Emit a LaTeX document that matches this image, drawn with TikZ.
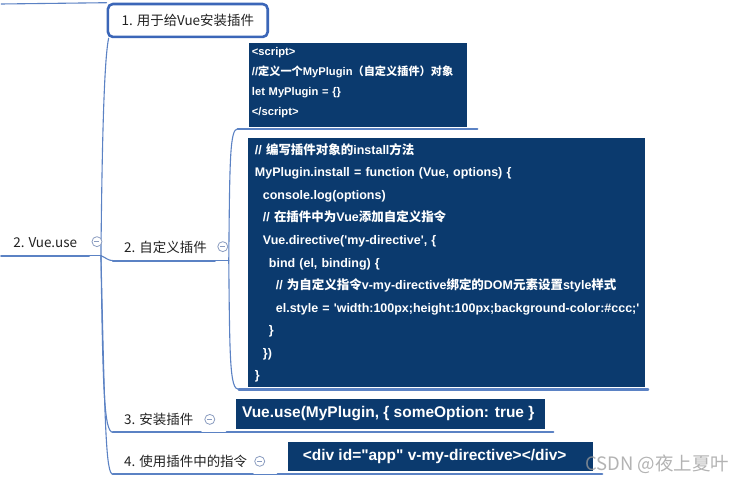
\documentclass[tikz,border=0pt]{standalone}
\usepackage{fontspec}
\setmainfont{Liberation Sans}
\newfontfamily\cjk{Noto Sans CJK SC}
\usetikzlibrary{calc}
\definecolor{vueNavy}{HTML}{0B3A6E}
\definecolor{vueLine}{HTML}{5B82C4}
\definecolor{vueEdge}{HTML}{3B66B8}
\definecolor{vueInk}{HTML}{222222}
\definecolor{vueFold}{HTML}{8A9CC0}
\definecolor{vueMark}{HTML}{9A9A9A}
\newcommand{\zh}[1]{{\cjk #1}}

\begin{document}
\begin{tikzpicture}[x=1pt,y=-1pt,line cap=round,line join=round]
\path[fill=white] (0,0) rectangle (749,485);
\tikzset{uline/.style={draw=vueLine,line width=2.2pt},branch/.style={draw=vueLine,line width=1.1pt},topic/.style={anchor=west,inner sep=0pt,text=vueInk,font=\cjk\fontsize{13.5}{16}\selectfont},fold/.style={circle,draw=vueFold,line width=0.8pt,fill=white,minimum size=10pt,inner sep=0pt,text=vueFold},codebox/.style={anchor=north west,fill=vueNavy,inner sep=0pt},code/.style={anchor=base west,inner sep=0pt,text=white,align=left,text width=440pt},notebox/.style={draw=vueEdge,line width=2.6pt,fill=white,rounded corners=5pt,minimum width=160pt,minimum height=33pt,inner sep=0pt,text=vueInk,font=\cjk\fontsize{13.5}{16}\selectfont}}
\node[notebox] (installNote) at (187,20.5) {1. 用于给Vue安装插件};
\node[topic] (useTopic) at (12,243) {2. Vue.use};
\node[topic] (defTopic) at (123,248) {2. 自定义插件};
\node[topic] (installTopic) at (123,420) {3. 安装插件};
\node[topic] (directiveTopic) at (123,462) {4. 使用插件中的指令};
\coordinate (topL) at (0,4);
\coordinate (useL) at (0,256); \coordinate (useR) at (88,256); \coordinate (useJoin) at (100,256);
\coordinate (defL) at (112,261); \coordinate (defR) at (214,261); \coordinate (defJoin) at (228,261);
\coordinate (scriptL) at (237,129); \coordinate (scriptR) at (477,129);
\coordinate (methodL) at (238,390); \coordinate (methodR) at (648,390);
\coordinate (installL) at (112,433); \coordinate (installR) at (200,433);
\coordinate (callL) at (226,433); \coordinate (callR) at (553,433);
\coordinate (directiveL) at (112,475); \coordinate (directiveR) at (252,475);
\coordinate (tagL) at (277,475); \coordinate (tagR) at (602,475);
\draw[branch] (topL) -- (installNote.north west);
\draw[uline] (useL) -- (useR);
\draw[branch] (useR) -- (useJoin);
\draw[branch] (useJoin) .. controls (101,150) and (103,60) .. ([xshift=2pt]installNote.south west);
\draw[branch] (useJoin) .. controls (105,258) and (107,261) .. (defL);
\draw[branch] (useJoin) .. controls (102,390) and (103,433) .. (installL);
\draw[branch] (useJoin) .. controls (104,430) and (105,475) .. (directiveL);
\draw[uline] (defL) -- (defR);
\draw[branch] (defR) -- (defJoin);
\draw[branch] (defJoin) .. controls (229,160) and (229,129) .. (scriptL);
\draw[branch] (defJoin) .. controls (229,360) and (229,390) .. (methodL);
\draw[uline] (scriptL) -- (scriptR);
\draw[uline] (methodL) -- (methodR);
\draw[uline] (installL) -- (installR);
\draw[branch] (installR) -- (callL);
\draw[uline] (callL) -- (callR);
\draw[uline] (directiveL) -- (directiveR);
\draw[branch] (directiveR) -- (tagL);
\draw[uline] (tagL) -- (tagR);
\node[fold] (useFold) at (96,242) {\rule{5pt}{0.8pt}};
\node[fold] (defFold) at (222,247) {\rule{5pt}{0.8pt}};
\node[fold] (installFold) at (209,420) {\rule{5pt}{0.8pt}};
\node[fold] (directiveFold) at (259,462) {\rule{5pt}{0.8pt}};
\node[codebox,minimum width=218pt,minimum height=84pt] (scriptBox) at (248,43) {};
\node[code,font=\bfseries\fontsize{11.2}{20}\selectfont] (scriptCode) at (251,56) {<script>\\//\zh{定义一个}MyPlugin\zh{（自定义插件）对象}\\let MyPlugin = \{\}\\</script>};
\node[codebox,minimum width=398pt,minimum height=249pt] (methodBox) at (247,138) {};
\node[code,font=\bfseries\fontsize{12.5}{22.6}\selectfont] (methodCode) at (254,154.5) {// \zh{编写插件对象的}install\zh{方法}\\
MyPlugin.install = function (Vue, options) \{\\
\hspace*{8pt}console.log(options)\\
\hspace*{8pt}// \zh{在插件中为}Vue\zh{添加自定义指令}\\
\hspace*{8pt}Vue.directive(\textquotesingle my-directive\textquotesingle, \{\\
\hspace*{14pt}bind (el, binding) \{\\
\hspace*{21pt}// \zh{为自定义指令}v-my-directive\zh{绑定的}DOM\zh{元素设置}style\zh{样式}\\
\hspace*{21pt}el.style = \textquotesingle width:100px;height:100px;background-color:\#ccc;\textquotesingle\\
\hspace*{14pt}\}\\
\hspace*{8pt}\})\\
\}};
\node[codebox,minimum width=309pt,minimum height=30pt,text=white,font=\bfseries\fontsize{15.5}{18}\selectfont] (callBox) at (235,399) {Vue.use(MyPlugin, \{ someOption: true \}\hspace*{4pt}};
\node[codebox,minimum width=306pt,minimum height=29pt,text=white,font=\bfseries\fontsize{15.5}{18}\selectfont] (tagBox) at (287,442) {<div id=\textquotedbl app\textquotedbl\ v-my-directive></div>\hspace*{12pt}};
\node[text=vueMark,text opacity=0.75,font=\cjk\fontsize{18.5}{20}\selectfont] (csdnMark) at (657,465) {CSDN @夜上夏叶};
\end{tikzpicture}
\end{document}
